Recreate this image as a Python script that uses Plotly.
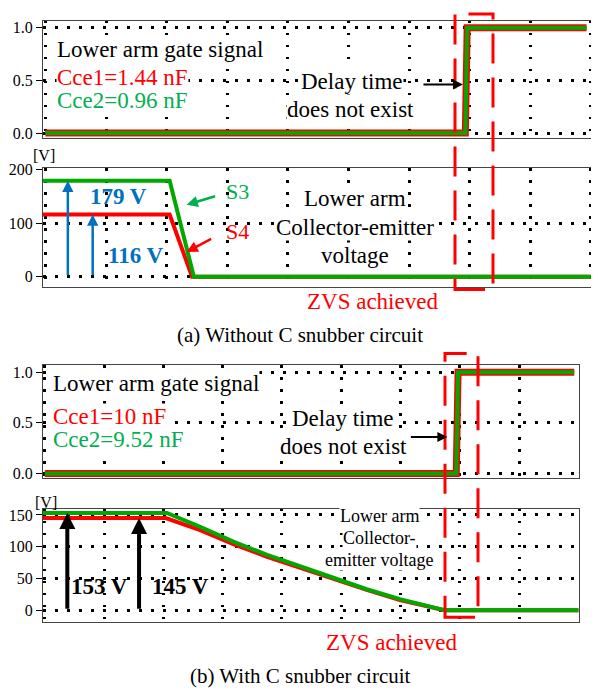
import plotly.graph_objects as go

# The page body has an 8px margin, so the figure is drawn 8px smaller and
# every page-pixel position below is shifted by that offset.
PAGE_W, PAGE_H = 599, 691
OFF = 8
W, H = PAGE_W - OFF, PAGE_H - OFF

# ---------------- data ----------------
# (a) Without C snubber circuit
gate_a_t = [0.0, 6.93, 6.96, 8.93]
gate_a_red = [0.0, 0.0, 1.0, 1.0]
gate_a_green = [0.0, 0.0, 1.0, 1.0]

volt_a_s4_t = [-0.05, 2.05, 2.42, 9.0]
volt_a_s4_v = [116, 116, 0, 0]
volt_a_s3_t = [-0.05, 2.05, 2.45, 9.0]
volt_a_s3_v = [179, 179, 0, 0]

# (b) With C snubber circuit
gate_b_t = [0.0, 6.94, 6.97, 8.93]
gate_b_red = [0.0, 0.0, 1.0, 1.0]
gate_b_green = [0.0, 0.0, 1.0, 1.0]

volt_b_red_t = [-0.05, 2.04, 2.62, 3.18, 3.75, 4.30, 4.86, 5.43, 5.99, 6.74, 9.0]
volt_b_red_v = [145, 145, 126, 104, 84, 67, 49, 32, 16, 0, 0]
volt_b_green_t = [-0.05, 2.06, 2.62, 3.18, 3.75, 4.30, 4.86, 5.43, 5.99, 6.74, 9.0]
volt_b_green_v = [153, 153, 131, 108, 87, 69, 51, 33, 17.5, 0, 0]

gate_ticks = [0, 0.5, 1.0]
gate_ticktext = ["0.0", "0.5", "1.0"]
volt_a_ticks = [0, 100, 200]
volt_b_ticks = [0, 50, 100, 150]

RED = "#FF0000"
GREEN = "#00A800"
TGREEN = "#00B050"
BLUE = "#0070C0"
FONT = "Liberation Serif"


def px(x):
    return (x - OFF) / W


def py(y):
    return 1 - (y - OFF) / H


fig = go.Figure()

# gate a
fig.add_trace(go.Scatter(x=gate_a_t, y=gate_a_red, mode="lines",
                         line=dict(color=RED, width=7), xaxis="x", yaxis="y"))
fig.add_trace(go.Scatter(x=gate_a_t, y=gate_a_green, mode="lines",
                         line=dict(color=GREEN, width=4), xaxis="x", yaxis="y"))
# volt a
fig.add_trace(go.Scatter(x=volt_a_s4_t, y=volt_a_s4_v, mode="lines",
                         line=dict(color=RED, width=4), xaxis="x2", yaxis="y2"))
fig.add_trace(go.Scatter(x=volt_a_s3_t, y=volt_a_s3_v, mode="lines",
                         line=dict(color=GREEN, width=4), xaxis="x2", yaxis="y2"))
# gate b
fig.add_trace(go.Scatter(x=gate_b_t, y=gate_b_red, mode="lines",
                         line=dict(color=RED, width=7), xaxis="x3", yaxis="y3"))
fig.add_trace(go.Scatter(x=gate_b_t, y=gate_b_green, mode="lines",
                         line=dict(color=GREEN, width=4), xaxis="x3", yaxis="y3"))
# volt b
fig.add_trace(go.Scatter(x=volt_b_red_t, y=volt_b_red_v, mode="lines",
                         line=dict(color=RED, width=4), xaxis="x4", yaxis="y4"))
fig.add_trace(go.Scatter(x=volt_b_green_t, y=volt_b_green_v, mode="lines",
                         line=dict(color=GREEN, width=4), xaxis="x4", yaxis="y4"))

grid = dict(showgrid=True, gridcolor="black", gridwidth=2.5, griddash="2.5px,9.5px",
            zeroline=False, showline=True, mirror=True, linecolor="#444", linewidth=1)

xcommon = dict(grid, tick0=0, dtick=1, showticklabels=False, ticks="")
ycommon = dict(grid, ticks="outside", ticklen=6, tickcolor="black", tickwidth=1,
               tickfont=dict(family=FONT, size=16, color="black"))

fig.update_layout(
    width=W, height=H, margin=dict(l=0, r=0, t=0, b=0),
    paper_bgcolor="white", plot_bgcolor="white", showlegend=False,
    xaxis=dict(xcommon, domain=[px(43), px(592)], range=[-0.04, 9.02], anchor="y"),
    yaxis=dict(ycommon, domain=[py(133), py(14)], range=[-0.047, 1.065], anchor="x",
               tickvals=gate_ticks, ticktext=gate_ticktext),
    xaxis2=dict(xcommon, domain=[px(43), px(592)], range=[-0.04, 9.02], anchor="y2"),
    yaxis2=dict(ycommon, domain=[py(284), py(164)], range=[-18.3, 201.8], anchor="x2",
                tickvals=volt_a_ticks),
    xaxis3=dict(xcommon, domain=[px(43), px(579)], range=[-0.03, 9.01], anchor="y3"),
    yaxis3=dict(ycommon, domain=[py(479), py(364)], range=[-0.049, 1.068], anchor="x3",
                tickvals=gate_ticks, ticktext=gate_ticktext),
    xaxis4=dict(xcommon, domain=[px(43), px(579)], range=[-0.03, 9.01], anchor="y4"),
    yaxis4=dict(ycommon, domain=[py(625), py(510)], range=[-18.6, 159.4], anchor="x4",
                tickvals=volt_b_ticks),
)

ann = []


def txt(s, x, y, size, color="black", xanchor="center", bold=False, bg=None):
    d = dict(text=("<b>%s</b>" % s) if bold else s, x=px(x), y=py(y), xref="paper", yref="paper",
             xanchor=xanchor, yanchor="middle", showarrow=False, borderpad=0,
             font=dict(family=FONT, size=size, color=color))
    if bg:
        d["bgcolor"] = bg
    ann.append(d)


# ---- panel (a) ----
txt("Lower arm gate signal", 56, 43, 23, xanchor="left", bg="white")
txt("Cce2=0.96 nF", 56, 95, 23, color=TGREEN, xanchor="left", bg="white")
txt("Cce1=1.44 nF", 56, 72, 23, color=RED, xanchor="left", bg="white")
txt("Delay time", 352, 76, 23, bg="white")
txt("does not exist", 350, 104, 23, bg="white")
txt("[V]", 44, 151, 16)
txt("179 V", 118, 192, 23, color=BLUE, bold=True)
txt("116 V", 136, 252, 23, color=BLUE, bold=True)
txt("S3", 237, 187, 22, color=TGREEN)
txt("S4", 237, 228, 22, color=RED)
txt("Lower arm", 355, 195, 23, bg="white")
txt("Collector-emitter", 355, 224, 23, bg="white")
txt("voltage", 355, 252, 23, bg="white")
txt("ZVS achieved", 372, 299, 23, color=RED)
txt("(a) Without C snubber circuit", 300, 333, 21)

# ---- panel (b) ----
txt("Lower arm gate signal", 52, 383, 23, xanchor="left", bg="white")
txt("Cce2=9.52 nF", 52, 439, 23, color=TGREEN, xanchor="left", bg="white")
txt("Cce1=10 nF", 52, 416, 23, color=RED, xanchor="left", bg="white")
txt("Delay time", 343, 418, 23, bg="white")
txt("does not exist", 343, 447, 23, bg="white")
txt("[V]", 46, 503, 16)
txt("153 V", 99, 589, 23, bold=True)
txt("145 V", 180, 589, 23, bold=True)
txt("Lower arm", 379, 517, 18, bg="white")
txt("Collector-", 379, 540, 18, bg="white")
txt("emitter voltage", 379, 562, 18, bg="white")
txt("ZVS achieved", 392, 646, 23, color=RED)
txt("(b) With C snubber circuit", 300, 680, 21)


def arrow(xr, yr, x, y, ax, ay, color, width, size, axref=None):
    d = dict(x=x, y=y, xref=xr, yref=yr, ax=ax, ay=ay, text="", showarrow=True,
             arrowhead=2, arrowsize=size, arrowwidth=width, arrowcolor=color, standoff=0)
    if axref:
        d["axref"] = xr
        d["ayref"] = yr
    ann.append(d)


# value arrows in data coordinates (from 0 up to the plateau value)
arrow("x2", "y2", 0.37, volt_a_s3_v[0], 0.37, 0, BLUE, 2.5, 0.9, axref=True)
arrow("x2", "y2", 0.78, volt_a_s4_v[0], 0.78, 0, BLUE, 2.5, 0.9, axref=True)
arrow("x4", "y4", 0.38, volt_b_green_v[0], 0.38, 0, "black", 4, 0.8, axref=True)
arrow("x4", "y4", 1.59, volt_b_red_v[0], 1.59, 0, "black", 4, 0.8, axref=True)
# pointer arrows
arrow("x2", "y2", 2.33, 134, 30, -9, TGREEN, 2.5, 0.9)
arrow("x2", "y2", 2.33, 46, 26, -14, RED, 2.5, 0.9)
arrow("x", "y", 6.89, 0.46, -41, 0, "black", 2, 1.0)
arrow("x3", "y3", 6.79, 0.36, -38, 0, "black", 2, 1.0)

fig.update_layout(annotations=ann)

# ZVS dashed boxes
fig.add_shape(type="rect", xref="paper", yref="paper",
              x0=px(455), x1=px(493), y0=py(287), y1=py(7),
              line=dict(color=RED, width=3, dash="30px,14px"))
fig.add_shape(type="rect", xref="paper", yref="paper",
              x0=px(445), x1=px(478), y0=py(620), y1=py(352),
              line=dict(color=RED, width=3, dash="30px,14px"))

fig.write_html("out.html")
